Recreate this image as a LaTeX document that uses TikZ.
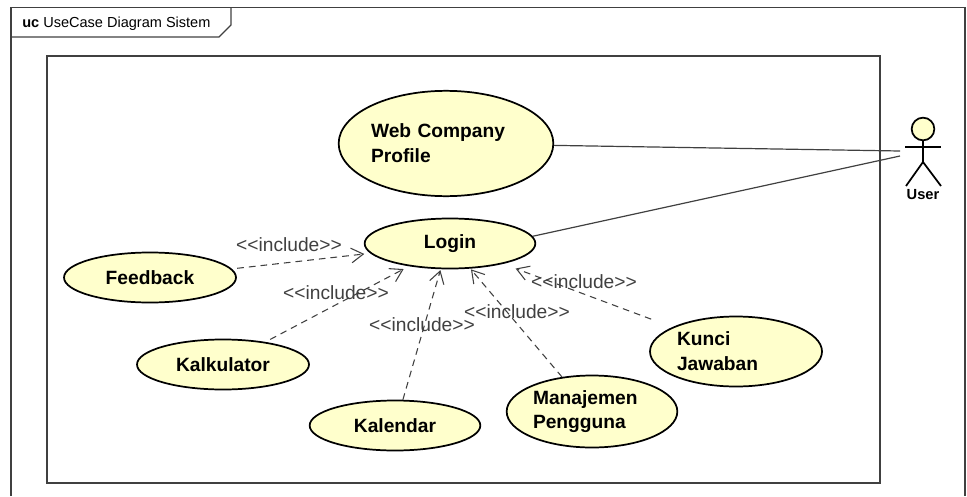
\documentclass[tikz,border=0pt]{standalone}
\usepackage{fontspec}
\setmainfont{Liberation Sans}
\usetikzlibrary{shapes.geometric}
\usetikzlibrary{arrows.meta}
\definecolor{ucfill}{HTML}{FFFFCC}
\definecolor{ucline}{HTML}{404040}
\begin{document}
\begin{tikzpicture}[x=0.75pt,y=-0.75pt,>={Straight Barb[length=9pt,width=11pt,line width=0.8pt]},
    uc node/.style={ellipse,draw=black,line width=1.3pt,fill=ucfill,inner sep=0pt,font=\fontsize{14.4}{18.6}\selectfont,align=left},
    inc node/.style={text=ucline,inner sep=0pt,font=\fontsize{14.4}{17}\selectfont},
    inc line/.style={->,dash pattern=on 5pt off 3.8pt,line width=0.8pt,draw=ucline},
    assoc line/.style={-,line width=0.9pt,draw=ucline}]
   \useasboundingbox (0,0) rectangle (967,496);
   % frame and system box
   \draw[line width=0.9pt,draw=ucline] (11,496) -- (11,7.5) -- (965,7.5) -- (965,496);
   \draw[line width=0.9pt,draw=ucline] (11,37) -- (219,37) -- (231,25) -- (231,7.5);
   \node[anchor=west,inner sep=0pt,font=\fontsize{10.9}{13}\selectfont] (title) at (22,24) {\textbf{uc} UseCase Diagram Sistem};
   \draw[line width=0.9pt,draw=ucline] (47,56) rectangle (880,483);
   % use cases
   \node[uc node,minimum width=161pt,minimum height=79pt,text width=112.5pt] (web) at (446,143.5) {\textbf{Web Company}\\\textbf{Profile}};
   \node[uc node,minimum width=128pt,minimum height=37.5pt] (login) at (450,243.5) {\textbf{Login}};
   \node[uc node,minimum width=129pt,minimum height=37.5pt] (feedback) at (150,277.5) {\textbf{Feedback}};
   \node[uc node,minimum width=129pt,minimum height=37.5pt] (kalkulator) at (223,364.5) {\textbf{Kalkulator}};
   \node[uc node,minimum width=128pt,minimum height=37.5pt] (kalendar) at (395,425.5) {\textbf{Kalendar}};
   \node[uc node,minimum width=128pt,minimum height=54pt,text width=88.5pt] (manajemen) at (592,411.5) {\textbf{Manajemen}\\\textbf{Pengguna}};
   \node[uc node,minimum width=129pt,minimum height=52.5pt,text width=88.5pt] (kunci) at (736,351.5) {\textbf{Kunci}\\\textbf{Jawaban}};
   % actor
   \node[circle,draw=black,line width=1.3pt,fill=ucfill,inner sep=0pt,minimum size=17pt] (userhead) at (923,129) {};
   \coordinate (userleft) at (905,147);
   \coordinate (userright) at (941,147);
   \coordinate (userhip) at (923,162);
   \coordinate (userfootl) at (906,186);
   \coordinate (userfootr) at (941,186);
   \coordinate (usera) at (900,151);
   \coordinate (userb) at (900,156);
   \draw[line width=1.3pt] (userhead) -- (userhip);
   \draw[line width=1.3pt] (userleft) -- (userright);
   \draw[line width=1.3pt] (userfootl) -- (userhip) -- (userfootr);
   \node[inner sep=0pt,font=\bfseries\fontsize{11}{13}\selectfont] (user) at (923,195) {User};
   \path[assoc line] (web.359) edge (usera);
   \path[assoc line] (login.5) edge (userb);
   % include arrows
   \draw[inc line,shorten >=4.5pt,shorten <=4pt] (feedback.6) -- (login.187);
   \draw[inc line,shorten >=4.5pt,shorten <=4pt] (kalkulator.28) -- (login.209);
   \draw[inc line,shorten >=0.7pt] (kalendar.73) -- (login.250);
   \draw[inc line,shorten >=0.7pt] (manajemen.131) -- (login.309);
   \draw[inc line,shorten >=10pt,shorten <=17pt] (kunci.159) -- (login.339);
   \node[inc node] (incfeedback) at (289,245) {<{}<include>{}>};
   \node[inc node] (inckalkulator) at (336,293) {<{}<include>{}>};
   \node[inc node] (inckalendar) at (422,325) {<{}<include>{}>};
   \node[inc node] (incmanajemen) at (517,312) {<{}<include>{}>};
   \node[inc node] (inckunci) at (584,282) {<{}<include>{}>};
\end{tikzpicture}
\end{document}
